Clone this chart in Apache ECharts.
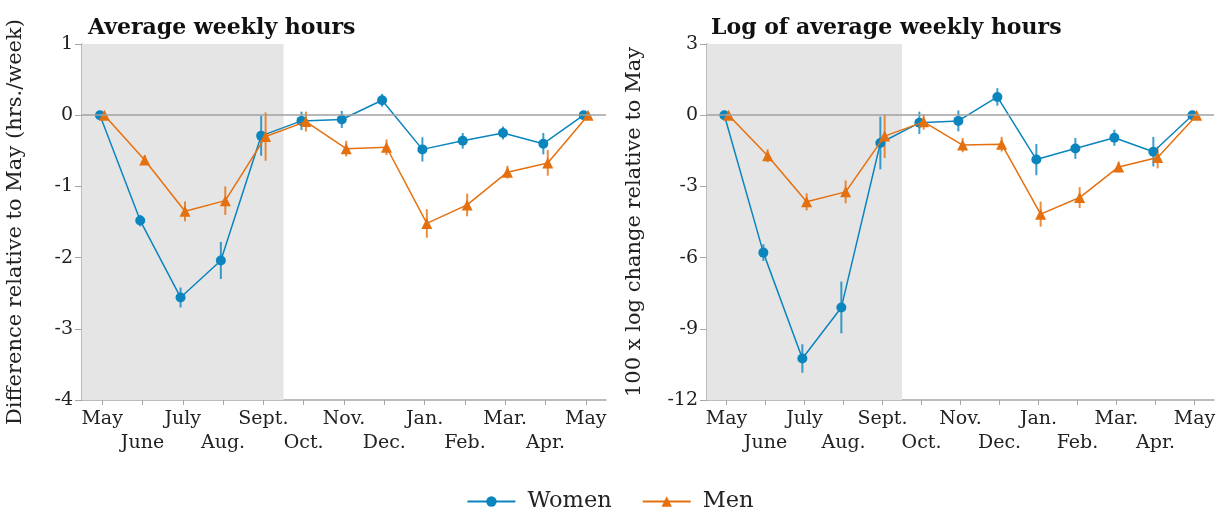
<!DOCTYPE html>
<html><head><meta charset="utf-8">
<script src="https://cdn.jsdelivr.net/npm/echarts@6/dist/echarts.min.js"></script>
<style>html,body{margin:0;padding:0;background:#fff}#c{width:1220px;height:510px}</style>
</head><body><div id="c"></div>
<script>
const months = ['May','June','July','Aug.','Sept.','Oct.','Nov.','Dec.','Jan.','Feb.','Mar.','Apr.','May'];

// Panel 1: difference in average weekly hours relative to May
const womenHours    = [0, -1.48, -2.56, -2.04, -0.29, -0.08, -0.06, 0.21, -0.48, -0.36, -0.25, -0.40, 0];
const womenHoursErr = [0, 0.08, 0.14, 0.26, 0.28, 0.13, 0.12, 0.09, 0.17, 0.11, 0.09, 0.15, 0];
const menHours      = [0, -0.63, -1.35, -1.20, -0.30, -0.09, -0.47, -0.45, -1.52, -1.26, -0.80, -0.67, 0];
const menHoursErr   = [0, 0.07, 0.14, 0.20, 0.34, 0.14, 0.11, 0.11, 0.20, 0.16, 0.09, 0.18, 0];

// Panel 2: 100 x log change relative to May
const womenLog    = [0, -5.79, -10.25, -8.10, -1.17, -0.32, -0.24, 0.77, -1.87, -1.40, -0.95, -1.54, 0];
const womenLogErr = [0, 0.35, 0.60, 1.09, 1.11, 0.47, 0.44, 0.37, 0.66, 0.44, 0.34, 0.62, 0];
const menLog      = [0, -1.71, -3.65, -3.23, -0.88, -0.28, -1.26, -1.22, -4.17, -3.47, -2.18, -1.78, 0];
const menLogErr   = [0, 0.27, 0.36, 0.48, 0.92, 0.33, 0.30, 0.31, 0.53, 0.44, 0.23, 0.46, 0];

const shadedMonths = [0, 4]; // May..Sept. shaded

const titles = ['Average weekly hours', 'Log of average weekly hours'];
const yNames = ['Difference relative to May (hrs./week)', '100 x log change relative to May'];

const WOMEN = '#0a85bd', MEN = '#e5700f';
const FONT = 'DejaVu Serif';
const DODGE = 0.055;

const chart = echarts.init(document.getElementById('c'));

function pts(vals, off){ return vals.map((v,i)=>[i+off, v]); }
function errs(vals, e, off){ return vals.map((v,i)=>[i+off, v-e[i], v+e[i]]); }
function errRender(color){
  return function(params, api){
    const x = api.value(0);
    if (api.value(1) === api.value(2)) return null;
    const p1 = api.coord([x, api.value(1)]);
    const p2 = api.coord([x, api.value(2)]);
    return {type:'line', shape:{x1:p1[0],y1:p1[1],x2:p2[0],y2:p2[1]},
      style:{stroke:color, lineWidth:2, opacity:0.8}};
  };
}

const grids = [
  {left:82, top:44, width:524, height:356},
  {left:707, top:44, width:507, height:356}
];

const xAxes = [], yAxes = [], series = [];
const yCfg = [{min:-4,max:1,interval:1},{min:-12,max:3,interval:3}];
const nameGaps = [56, 62];
const data = [
  [womenHours, womenHoursErr, menHours, menHoursErr],
  [womenLog, womenLogErr, menLog, menLogErr]
];

for (let g=0; g<2; g++){
  xAxes.push({
    type:'category', gridIndex:g, data:months, boundaryGap:true, position:'bottom',
    axisLine:{onZero:false, lineStyle:{color:'#a6a6a6', width:1.5}},
    axisTick:{show:true, alignWithLabel:true, length:5, lineStyle:{color:'#a6a6a6'}},
    axisLabel:{interval:0, color:'#222', fontFamily:FONT, fontSize:19, margin:7, lineHeight:24,
      formatter:(v,i)=> i%2 ? '\n'+v : v},
    splitLine:{show:false}
  });
  xAxes.push({type:'value', gridIndex:g, min:-0.5, max:12.5, show:false, position:'top',
    axisLine:{onZero:false}});
  yAxes.push({
    type:'value', gridIndex:g, min:yCfg[g].min, max:yCfg[g].max, interval:yCfg[g].interval,
    name:yNames[g], nameLocation:'middle', nameGap:nameGaps[g], position:'left',
    nameTextStyle:{fontFamily:FONT, fontSize:21, color:'#222'},
    axisLine:{show:true, onZero:false, lineStyle:{color:'#a6a6a6', width:1.5}},
    axisTick:{show:true, length:7, lineStyle:{color:'#a6a6a6'}},
    axisLabel:{color:'#222', fontFamily:FONT, fontSize:19, margin:9},
    splitLine:{show:false}
  });
  const xi = g*2+1;
  const [wv, we, mv, me] = data[g];
  series.push({
    type:'line', name:'bg'+g, xAxisIndex:xi, yAxisIndex:g, data:[], z:1, silent:true,
    markArea:{silent:true, itemStyle:{color:'#e5e5e5'}, label:{show:false},
      data:[[{xAxis:shadedMonths[0]-0.5},{xAxis:shadedMonths[1]+0.5}]]},
    markLine:{silent:true, symbol:'none', label:{show:false},
      lineStyle:{color:'#a0a0a0', width:1.5, type:'solid'}, data:[{yAxis:0}]}
  });
  series.push({type:'custom', name:'Women CI', xAxisIndex:xi, yAxisIndex:g, z:2,
    renderItem:errRender(WOMEN), data:errs(wv, we, -DODGE), encode:{x:0, y:[1,2]}, silent:true});
  series.push({type:'custom', name:'Men CI', xAxisIndex:xi, yAxisIndex:g, z:2,
    renderItem:errRender(MEN), data:errs(mv, me, DODGE), encode:{x:0, y:[1,2]}, silent:true});
  series.push({type:'line', name:'Women', xAxisIndex:xi, yAxisIndex:g, z:3,
    data:pts(wv, -DODGE), symbol:'circle', symbolSize:10, showAllSymbol:true,
    lineStyle:{color:WOMEN, width:1.5}, itemStyle:{color:WOMEN}, animation:false});
  series.push({type:'line', name:'Men', xAxisIndex:xi, yAxisIndex:g, z:4,
    data:pts(mv, DODGE), symbol:'triangle', symbolSize:11, showAllSymbol:true,
    lineStyle:{color:MEN, width:1.5}, itemStyle:{color:MEN}, animation:false});
}

chart.setOption({
  animation:false,
  backgroundColor:'#fff',
  title:[
    {text:titles[0], left:83, top:12, textStyle:{fontFamily:FONT, fontWeight:'bold', fontSize:22, color:'#111'}},
    {text:titles[1], left:706, top:12, textStyle:{fontFamily:FONT, fontWeight:'bold', fontSize:22, color:'#111'}}
  ],
  grid:grids,
  xAxis:xAxes,
  yAxis:yAxes,
  legend:{data:['Women','Men'], left:'center', top:485,
    itemWidth:48, itemHeight:13, itemGap:30,
    textStyle:{fontFamily:FONT, fontSize:22.5, color:'#222', padding:[0,0,0,7]}},
  series:series
});
</script></body></html>
